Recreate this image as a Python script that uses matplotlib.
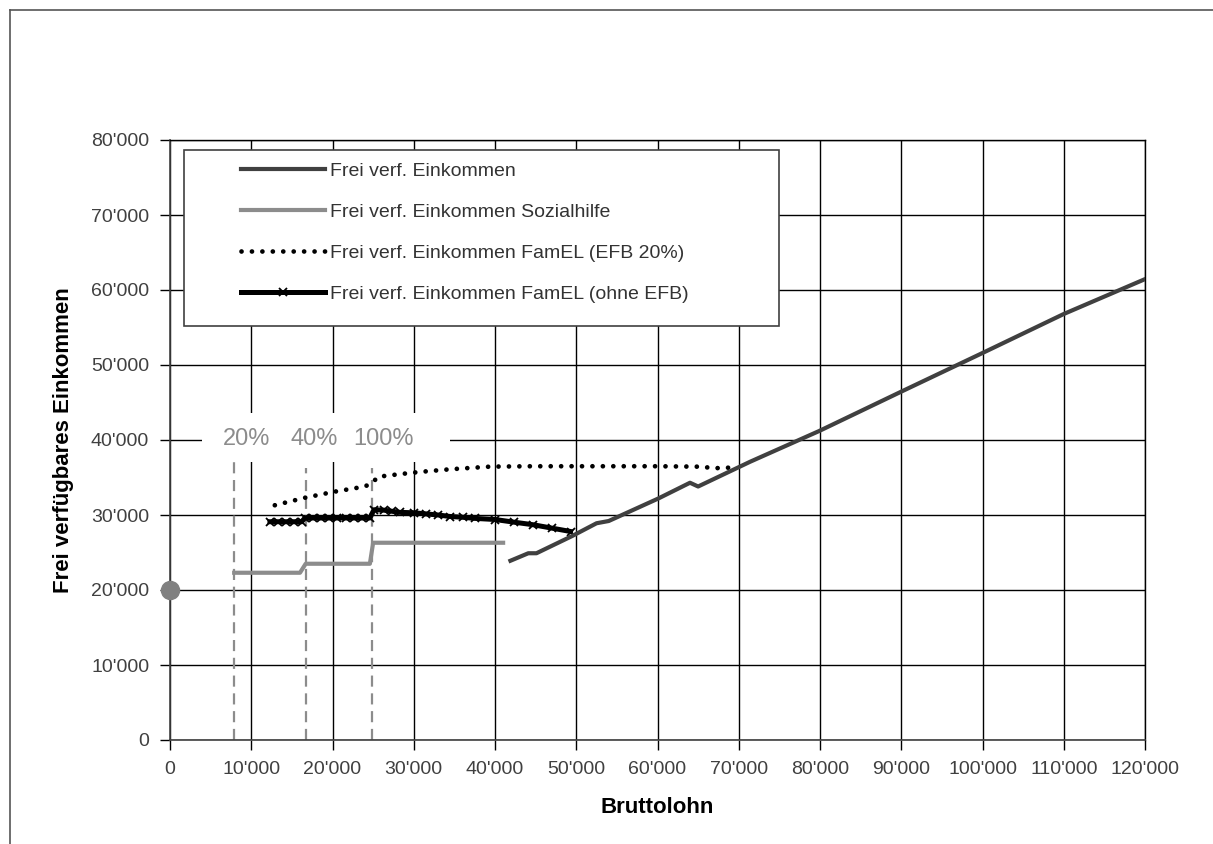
import matplotlib
matplotlib.use("Agg")
import matplotlib.pyplot as plt
from matplotlib.lines import Line2D
from matplotlib.patches import Rectangle
from matplotlib.ticker import FuncFormatter

plt.rcParams["font.family"] = ["Liberation Sans", "DejaVu Sans"]

# --- data --------------------------------------------------------------------
# Frei verfügbares Einkommen
frei_x = [41900, 44100, 45100, 49500, 52500, 54000, 60100, 64000, 65000,
          71400, 79900, 90100, 100000, 110000, 120000]
frei_y = [23900, 24900, 24900, 27200, 28900, 29200, 32200, 34300, 33800,
          37100, 41200, 46500, 51600, 56800, 61450]

# Frei verfügbares Einkommen Sozialhilfe
sozial_x = [7900, 16000, 16700, 24600, 25000, 41000]
sozial_y = [22300, 22300, 23500, 23500, 26300, 26300]

# Frei verfügbares Einkommen FamEL (EFB 20%)
efb20_x = [12900, 16600, 20200, 24000, 25000, 25600, 28300, 30800, 34500,
           39400, 44500, 49600, 59900, 64800, 67300, 69800]
efb20_y = [31300, 32300, 33100, 33800, 34400, 35100, 35450, 35750, 36100,
           36450, 36500, 36500, 36500, 36450, 36250, 36350]

# Frei verfügbares Einkommen FamEL (ohne EFB)
ohne_x = [12300, 13300, 14300, 15300, 16200, 16600, 17600, 18600, 19600,
          20600, 21600, 22600, 23600, 24600, 25100, 26300, 27300, 28300,
          30000, 31500, 33000, 34500, 36000, 37500, 40000, 42300, 44700,
          47000, 49300]
ohne_y = [29100, 29100, 29100, 29100, 29100, 29600, 29600, 29600, 29600,
          29600, 29600, 29600, 29600, 29600, 30700, 30650, 30500, 30350,
          30300, 30150, 30000, 29800, 29700, 29550, 29400, 29050, 28700,
          28250, 27800]

# Sozialhilfe ohne Erwerb
start_x = [0]
start_y = [20000]

# EFB-Stufen
efb_x = [7900, 16700, 24900]
efb_top = [37700, 36300, 36300]
efb_labels = ["20%", "40%", "100%"]
efb_label_x = [9400, 17700, 26300]
efb_label_y = 40100

series_labels = [
    "Frei verf. Einkommen",
    "Frei verf. Einkommen Sozialhilfe",
    "Frei verf. Einkommen FamEL (EFB 20%)",
    "Frei verf. Einkommen FamEL (ohne EFB)",
]

x_ticks = list(range(0, 120001, 10000))
y_ticks = list(range(0, 80001, 10000))

DARK = "#404040"
GRAY = "#8c8c8c"

fig = plt.figure(figsize=(12.13, 8.44), dpi=100)
ax = fig.add_axes([170 / 1213, 1 - 740 / 844, 975 / 1213, 600 / 844])
ax.set_axisbelow(True)

# outer frame of the original graphic (top and left edge only)
fig.add_artist(Line2D([10 / 1213, 1], [1 - 10 / 844, 1 - 10 / 844],
                      color="#555555", lw=1.2, transform=fig.transFigure))
fig.add_artist(Line2D([10 / 1213, 10 / 1213], [0, 1 - 10 / 844],
                      color="#555555", lw=1.2, transform=fig.transFigure))

# white box behind the percentage labels
ax.add_patch(Rectangle((3900, 37050), 30600, 6550, facecolor="white",
                       edgecolor="none", zorder=1))
for x, top in zip(efb_x, efb_top):
    ax.plot([x, x], [0, top], color=GRAY, lw=1.6, ls=(0, (5, 3)), zorder=2)
for x, lab in zip(efb_label_x, efb_labels):
    ax.text(x, efb_label_y, lab, color=GRAY, fontsize=17, ha="center",
            va="center", zorder=2)

l1, = ax.plot(frei_x, frei_y, color=DARK, lw=3, zorder=4,
              solid_joinstyle="round")
l2, = ax.plot(sozial_x, sozial_y, color=GRAY, lw=3, zorder=3,
              solid_joinstyle="round")
l3, = ax.plot(efb20_x, efb20_y, color="black", lw=3.4, zorder=3,
              ls=(0, (0.01, 2.2)), dash_capstyle="round")
l4, = ax.plot(ohne_x, ohne_y, color="black", lw=3.6, zorder=3,
              marker="x", markersize=6, markeredgewidth=1.3,
              solid_joinstyle="round")
ax.plot(start_x, start_y, "o", color="#808080", markersize=13, zorder=5,
        clip_on=False)

ax.set_xlim(0, 120000)
ax.set_ylim(0, 80000)
ax.set_xticks(x_ticks)
ax.set_yticks(y_ticks)
fmt = FuncFormatter(lambda v, _: f"{v:,.0f}".replace(",", "'"))
ax.xaxis.set_major_formatter(fmt)
ax.yaxis.set_major_formatter(fmt)
ax.tick_params(direction="out", length=7, width=1, colors="black",
               labelcolor=DARK, labelsize=14, pad=8)
ax.grid(True, color="black", lw=1)
for side in ["top", "right"]:
    ax.spines[side].set_color("black")
    ax.spines[side].set_linewidth(1)
for side in ["left", "bottom"]:
    ax.spines[side].set_color(DARK)
    ax.spines[side].set_linewidth(1.2)

ax.set_xlabel("Bruttolohn", fontsize=16, fontweight="bold", labelpad=14)
ax.set_ylabel("Frei verfügbares Einkommen", fontsize=16, fontweight="bold",
              labelpad=12)

# legend box
ax.add_patch(Rectangle((0.0144, 0.69), 0.6102, 0.2933, transform=ax.transAxes,
                       facecolor="white", edgecolor=DARK, lw=1.2, zorder=6))
leg = ax.legend([l1, l2, l3, l4], series_labels, loc="upper left",
                bbox_to_anchor=(0.0728, 0.963), frameon=False, fontsize=14,
                handlelength=4.3, handletextpad=0.3, labelspacing=1.2,
                borderpad=0, borderaxespad=0, numpoints=1)
leg.set_zorder(7)
for t in leg.get_texts():
    t.set_color("#333333")

fig.savefig("out.png", dpi=100, facecolor="white")
